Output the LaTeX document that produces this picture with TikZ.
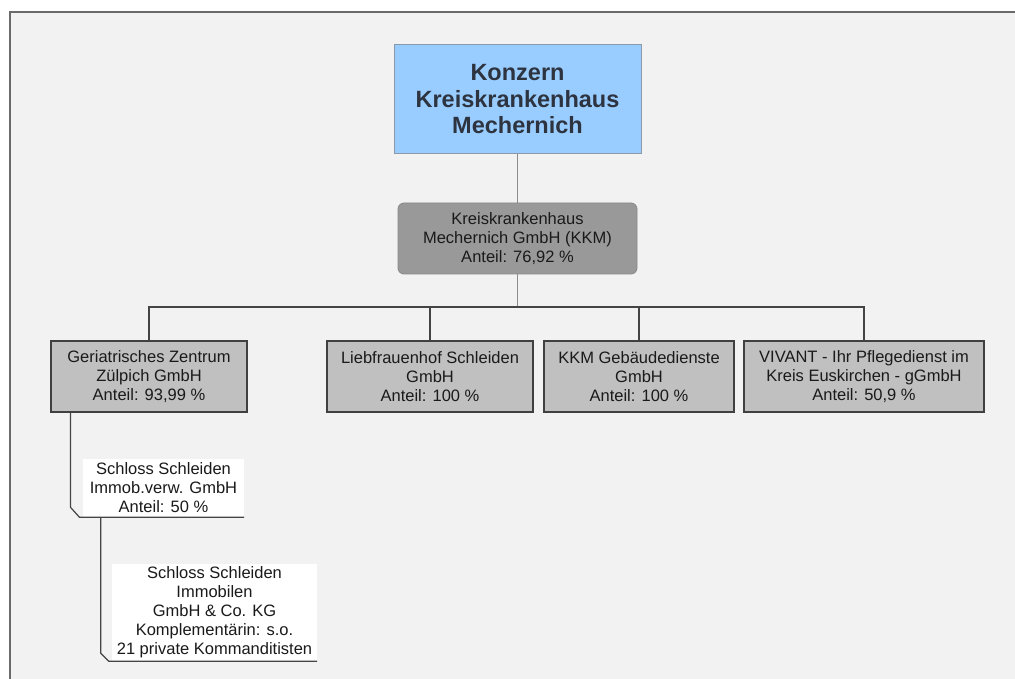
\documentclass[tikz,border=0pt]{standalone}
\usepackage{fontspec}
\setmainfont{Liberation Sans}
\usetikzlibrary{calc}
\definecolor{bgframe}{HTML}{F2F2F2}
\definecolor{framecol}{HTML}{6A6A6A}
\definecolor{topfill}{HTML}{99CCFF}
\definecolor{topdraw}{HTML}{8A9AAA}
\definecolor{toptext}{HTML}{2D3440}
\definecolor{kkmfill}{HTML}{999999}
\definecolor{kkmdraw}{HTML}{888888}
\definecolor{subfill}{HTML}{C0C0C0}
\definecolor{subdraw}{HTML}{404040}
\definecolor{txt}{HTML}{1A1A1A}
\definecolor{linecol}{HTML}{444444}
\definecolor{lightline}{HTML}{8C8C8C}
\tikzset{
  x=1pt, y=-1pt,
  topbox/.style={draw=topdraw, line width=1pt, fill=topfill, align=center, inner sep=0pt,
    text=toptext, font=\fontsize{23.5}{26.5}\selectfont\bfseries},
  kkmbox/.style={draw=kkmdraw, line width=0.8pt, fill=kkmfill, rounded corners=6pt, align=center,
    inner sep=0pt, text=txt, font=\fontsize{16.5}{19}\selectfont},
  subbox/.style={draw=subdraw, line width=1.2pt, fill=subfill, align=center, inner sep=0pt,
    text=txt, font=\fontsize{16.5}{19}\selectfont},
  whitebox/.style={fill=white, align=center, inner sep=0pt, text=txt,
    font=\fontsize{16.5}{19}\selectfont},
  conn/.style={draw=linecol, line width=1.2pt},
  lconn/.style={draw=lightline, line width=1pt},
}
\begin{document}
\begin{tikzpicture}
\useasboundingbox (0,0) rectangle (1015,679);
\fill[white] (0,0) rectangle (1015,679);
\begin{scope}
\clip (0,0) rectangle (1015,679);
\draw[framecol, line width=1.3pt, fill=bgframe] (10,12) rectangle (1030,700);
\end{scope}

\node[topbox, minimum width=247pt, minimum height=109pt] (top) at (517.5,99.5)
  {Konzern\\Kreiskrankenhaus\\Mechernich};
\node[kkmbox, minimum width=239pt, minimum height=71pt] (kkm) at (517.5,238.5)
  {Kreiskrankenhaus\\Mechernich GmbH (KKM)\\Anteil: 76,92 \%};

\node[subbox, minimum width=196pt, minimum height=71pt] (geri) at (149,376.5)
  {Geriatrisches Zentrum\\Zülpich GmbH\\Anteil: 93,99 \%};
\node[subbox, minimum width=206pt, minimum height=71pt] (lieb) at (430,376.5)
  {Liebfrauenhof Schleiden\\GmbH\\Anteil: 100 \%};
\node[subbox, minimum width=190pt, minimum height=71pt] (kkmg) at (639,376.5)
  {KKM Gebäudedienste\\GmbH\\Anteil: 100 \%};
\node[subbox, minimum width=240pt, minimum height=71pt] (viv) at (864,376.5)
  {VIVANT - Ihr Pflegedienst im\\Kreis Euskirchen - gGmbH\\Anteil: 50,9 \%};

\node[whitebox, minimum width=161pt, minimum height=58pt] (sub1) at (163.5,488)
  {Schloss Schleiden\\Immob.verw. GmbH\\Anteil: 50 \%};
\node[whitebox, minimum width=205pt, minimum height=97pt] (sub2) at (214.5,612.5)
  {Schloss Schleiden\\Immobilen\\GmbH \& Co. KG\\Komplementärin: s.o.\\21 private Kommanditisten};

\coordinate (bus) at (517.5,307);
\draw[lconn] (top.south) -- (kkm.north);
\draw[lconn] (kkm.south) -- (bus);
\draw[conn] (geri.north) |- (bus) -| (viv.north);
\draw[conn] (lieb.north) -- (lieb.north |- bus);
\draw[conn] (kkmg.north) -- (kkmg.north |- bus);

\coordinate (g1) at ($(geri.south west)+(20,0)$);
\draw[conn] (g1) -- ($(g1 |- sub1.south)+(0,-10)$) -- ($(g1 |- sub1.south)+(9,0)$) -- (sub1.south east);
\coordinate (s1) at ($(sub1.south west)+(18,0)$);
\draw[conn] (s1) -- ($(s1 |- sub2.south)+(0,-8)$) -- ($(s1 |- sub2.south)+(8,0)$) -- (sub2.south east);
\end{tikzpicture}
\end{document}
